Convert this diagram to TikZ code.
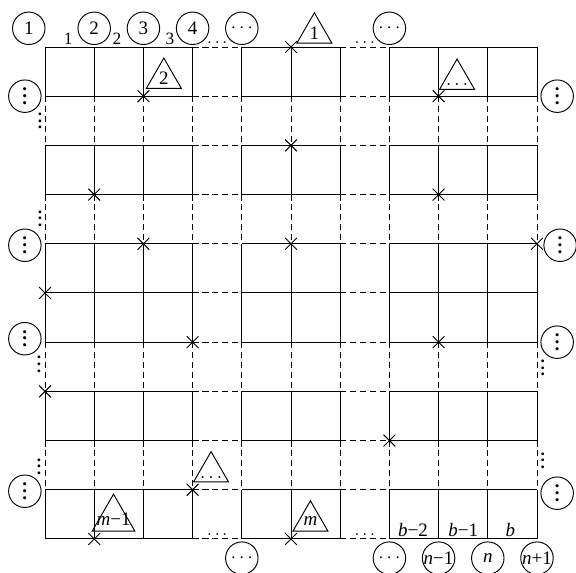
\documentclass[tikz,border=0pt]{standalone}
\usepackage{fontspec}
\setmainfont{Liberation Serif}
\usetikzlibrary{shapes.geometric,shapes.misc}

\newcommand{\vdts}{\vbox{\baselineskip3.8pt\lineskiplimit0pt\hbox{\textbf{.}}\hbox{\textbf{.}}\hbox{\textbf{.}}}}

\begin{document}
\begin{tikzpicture}[
    gridline/.style={line width=0.55pt},
    gapline/.style={line width=0.55pt,dash pattern=on 3.5pt off 2.2pt},
    ring/.style={draw,circle,line width=0.55pt,minimum size=0.66cm,inner sep=0pt,
        font=\fontsize{11}{13}\selectfont},
    tri/.style={draw,regular polygon,regular polygon sides=3,line width=0.55pt,
        minimum size=0.82cm,inner sep=0pt,outer sep=0pt,font=\fontsize{11}{13}\selectfont},
    cross/.style={cross out,draw,line width=0.55pt,minimum size=0.22cm,inner sep=0pt},
    lbl/.style={inner sep=1pt,anchor=south},
    linedots/.style={inner sep=2pt,anchor=south},
]
    \useasboundingbox (-0.915,0.955) rectangle (10.793,-10.692);

    % === Grid: solid blocks, dashed gaps ===
    \foreach \i in {0,...,10} {
        \foreach \p/\q in {0/3,4/6,7/10}
            \draw[gridline] (\p,-\i) -- (\q,-\i);
        \foreach \p/\q in {3/4,6/7}
            \draw[gapline] (\p,-\i) -- (\q,-\i);
    }
    \foreach \j in {0,...,10} {
        \foreach \p/\q in {0/1,2/3,4/6,7/8,9/10}
            \draw[gridline] (\j,-\p) -- (\j,-\q);
        \foreach \p/\q in {1/2,3/4,6/7,8/9}
            \draw[gapline] (\j,-\p) -- (\j,-\q);
    }

    % === Crosses ===
    \foreach \j/\i in {5/0,2/1,8/1,5/2,1/3,8/3,2/4,5/4,10/4,0/5,3/6,8/6,0/7,7/8,3/9,1/10,5/10}
        \node[cross] (x-\j-\i) at (\j,-\i) {};

    % === Triangles ===
    \node[tri,anchor=corner 2] (tri1) at ([shift={(0.12,0.08)}]x-5-0.center) {1};
    \node[tri,anchor=corner 2] (tri2) at ([shift={(0.06,0.16)}]x-2-1.center) {2};
    \node[tri,anchor=corner 2] (tridots) at ([shift={(0.02,0.14)}]x-8-1.center)
        {\makebox[0pt]{\vphantom{1}$\ldots$}};
    \node[tri,anchor=corner 2] (tridotsb) at ([shift={(0.02,0.16)}]x-3-9.center)
        {\makebox[0pt]{\vphantom{1}$\ldots$}};
    \node[tri,anchor=corner 2] (trim) at ([shift={(0.04,0.16)}]x-5-10.center) {\textit{m}};
    \node[tri,anchor=corner 2,minimum size=1cm] (trimm) at ([shift={(-0.04,0.16)}]x-1-10.center)
        {\makebox[0pt]{\textit{m}−1}};

    % === Top circles and labels ===
    \node[ring] (top1) at (-0.33,0.38) {1};
    \node[ring] (top2) at (1,0.38) {2};
    \node[ring] (top3) at (2,0.38) {3};
    \node[ring] (top4) at (3,0.38) {4};
    \node[ring] (topdots) at (4,0.38) {$\cdots$};
    \node[ring] (topdotsb) at (7,0.38) {$\cdots$};
    \node[lbl] (lab1) at (0.47,0) {1};
    \node[lbl] (lab2) at (1.46,0) {2};
    \node[lbl] (lab3) at (2.54,0) {3};
    \node[linedots] (tdots1) at (3.5,0) {$\ldots$};
    \node[linedots] (tdots2) at (6.5,0) {$\ldots$};

    % === Left and right circles ===
    \node[ring] (left1) at (-0.41,-1) {\vdts};
    \node[ring] (left2) at (-0.41,-4.03) {\vdts};
    \node[ring] (left3) at (-0.41,-5.93) {\vdts};
    \node[ring] (left4) at (-0.41,-9.03) {\vdts};
    \node[ring] (right1) at (10.41,-1) {\vdts};
    \node[ring] (right2) at (10.47,-4.03) {\vdts};
    \node[ring] (right3) at (10.41,-6) {\vdts};
    \node[ring] (right4) at (10.41,-9.07) {\vdts};

    % side dots in the gaps
    \node[inner sep=0pt] (ldots1) at (-0.10,-1.51) {\vdts};
    \node[inner sep=0pt] (ldots2) at (-0.10,-3.49) {\vdts};
    \node[inner sep=0pt] (ldots3) at (-0.12,-6.45) {\vdts};
    \node[inner sep=0pt] (ldots4) at (-0.12,-8.53) {\vdts};
    \node[inner sep=0pt] (rdots1) at (10.12,-6.53) {\vdts};
    \node[inner sep=0pt] (rdots2) at (10.12,-8.41) {\vdts};

    % === Bottom circles and labels ===
    \node[ring] (bot1) at (4,-10.39) {$\cdots$};
    \node[ring] (bot2) at (7,-10.39) {$\cdots$};
    \node[ring] (bot3) at (8,-10.39) {\makebox[0pt]{\textit{n}−1}};
    \node[ring] (bot4) at (9,-10.39) {\textit{n}};
    \node[ring] (bot5) at (10,-10.39) {\makebox[0pt]{\textit{n}+1}};
    \node[lbl,font=\fontsize{11}{13}\selectfont] (labb1) at (7.48,-10) {\textit{b}−2};
    \node[lbl,font=\fontsize{11}{13}\selectfont] (labb2) at (8.5,-10) {\textit{b}−1};
    \node[lbl,font=\fontsize{11}{13}\selectfont] (labb3) at (9.46,-10) {\textit{b}};
    \node[linedots] (bdots1) at (3.5,-10) {$\ldots$};
    \node[linedots] (bdots2) at (6.5,-10) {$\ldots$};
\end{tikzpicture}
\end{document}
